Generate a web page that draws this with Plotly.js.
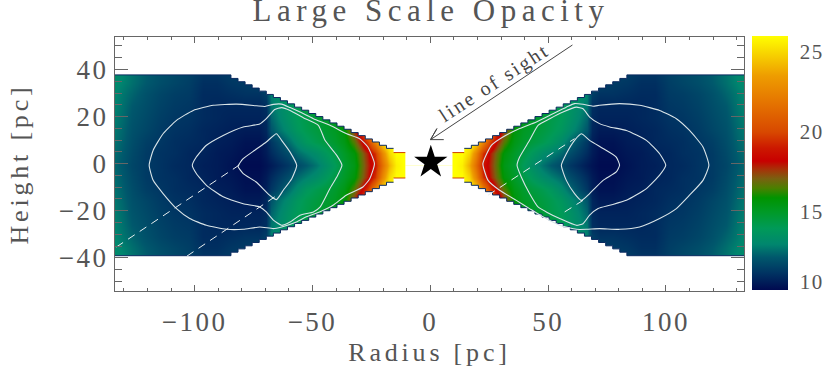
<!DOCTYPE html>
<html>
<head>
<meta charset="utf-8">
<script src="https://cdn.plot.ly/plotly-3.0.1.min.js"></script>
<style>
  body { margin: 0; background: #fff; }
  .gtitle { letter-spacing: 5.5px; }
  .xtitle, .ytitle { letter-spacing: 3.8px; }
  .xtick text, .ytick text { letter-spacing: 2.5px; }
  .colorbar text { letter-spacing: 1.5px; }
  .annotation-text { letter-spacing: 2.4px; }
</style>
</head>
<body>
<div id="chart" style="width:827px;height:379px"></div>
<script>
// opacity, one row per height, for the upper right quarter
const radii = [8, 11, 14, 17, 20, 23, 26, 29, 32, 36, 40, 44, 48, 52, 56, 60, 64, 67, 69, 72, 78, 84, 90, 96, 102, 108, 114, 120, 126, 130, 134, 138];
const heights = [0, 5, 10, 15, 20, 25, 30, 35, 40];
const row00 = [26, 26, 25.6, 24, 21.5, 18.8, 17.8, 16.6, 15.4, 14.8, 14, 13.3, 12.7, 12.2, 11.8, 11.3, 10.9, 10.6, 10.4, 10.2, 10.2, 10.4, 10.6, 10.7, 10.9, 11, 11.2, 11.4, 11.7, 12.1, 12.5, 12.8];
const row05 = [26, 26, 26, 25, 22.5, 19.5, 18, 16.8, 15.7, 15, 14.4, 13.8, 13.3, 12.9, 12.5, 11.9, 11.4, 11, 10.6, 10.3, 10.3, 10.5, 10.6, 10.8, 10.9, 11.1, 11.2, 11.4, 11.8, 12.2, 12.6, 12.9];
const row10 = [26, 26, 26, 26, 25, 22.5, 19.8, 18, 16.6, 15.4, 14.9, 14.5, 14.2, 13.8, 13.2, 12.5, 11.8, 11.3, 10.7, 10.4, 10.4, 10.6, 10.7, 10.9, 11, 11.1, 11.3, 11.5, 11.9, 12.3, 12.7, 13];
const row15 = [26, 26, 26, 26, 26, 25.5, 22.5, 19.5, 17.6, 15.7, 15.1, 14.8, 14.5, 14.2, 13.8, 13.2, 12.6, 12.1, 10.9, 10.6, 10.6, 10.7, 10.8, 10.9, 11.1, 11.2, 11.4, 11.7, 12, 12.4, 12.8, 13.1];
const row20 = [26, 26, 26, 26, 26, 26, 25.5, 22.5, 19, 16.4, 15.4, 15, 14.7, 14.3, 14, 13.5, 12.9, 12.4, 11, 10.8, 10.8, 10.8, 10.9, 11, 11.2, 11.3, 11.5, 11.8, 12.1, 12.5, 12.9, 13.2];
const row25 = [26, 26, 26, 26, 26, 26, 26, 25, 22, 18, 15.6, 15.2, 14.9, 14.6, 14.2, 13.6, 13.1, 12.7, 11.1, 10.9, 10.9, 10.9, 10.9, 11, 11.3, 11.4, 11.6, 11.9, 12.2, 12.6, 13, 13.3];
const row30 = [26, 26, 26, 26, 26, 26, 26, 26, 26, 22, 17, 15.5, 15.1, 14.8, 14.4, 13.9, 13.3, 12.9, 11.5, 11.2, 11.2, 11.1, 11, 11, 11.4, 11.5, 11.7, 12, 12.4, 12.7, 13.1, 13.4];
const row35 = [26, 26, 26, 26, 26, 26, 26, 26, 26, 26, 21, 16, 15.2, 14.9, 14.5, 14, 13.5, 13.1, 11.9, 11.6, 11.4, 11.3, 11.1, 11.1, 11.5, 11.7, 11.9, 12.2, 12.6, 12.9, 13.2, 13.5];
const row40 = [26, 26, 26, 26, 26, 26, 26, 26, 26, 26, 24, 17, 15.3, 15, 14.6, 14.1, 13.6, 13.2, 12.1, 11.8, 11.6, 11.5, 11.3, 11.3, 11.6, 11.8, 12, 12.3, 12.7, 13, 13.3, 13.6];
const opacityRows = [row00, row05, row10, row15, row20, row25, row30, row35, row40];

// the picture is mirrored about this point, not about the axis zero
const centerRadius = -0.6;
const centerHeight = -0.7;

// upper edge of the wedge, cell by cell
const edgeRadius = [10, 15, 18, 21, 24, 27, 30, 33, 36, 39, 42, 45, 48, 51, 54, 57, 60, 63, 66, 69, 72, 75, 78, 81, 84, 140];
const edgeHeight = [5.4, 7.2, 8.5, 9.9, 11.2, 12.6, 13.9, 15.3, 16.6, 18, 19.3, 20.7, 22, 23.4, 24.7, 26.1, 27.4, 28.8, 30.1, 31.5, 32.8, 34.2, 35.5, 36.9, 38.4, 38.4];

// contours
const outerLeftX = [-119.3, -117.6, -113.4, -107.7, -100.6, -92.1, -82.2, -73.7, -70.2, -66.6, -63.1, -59.5, -55.3, -49.6, -42.6, -35.5, -30, -26.5, -23.7, -25.7, -28.6, -35.7, -41.3, -47, -52.6, -56.8, -63.1, -66.6, -72.4, -79.4, -86.5, -95, -102.1, -107.7, -113.4, -117.6, -119.3];
const outerLeftY = [-0.7, 5.7, 12.7, 18.4, 22.6, 24.8, 25.3, 24.6, 24.3, 25.2, 25.3, 23.8, 21.9, 19.1, 16.3, 12.7, 10.6, 7.1, 0, -6.4, -9.9, -13.4, -17.7, -20.5, -22.6, -24.8, -26.9, -27.6, -26.9, -27.9, -27.9, -26.2, -23.3, -19.1, -12.7, -7.1, -0.7];
const middleLeftX = [-101, -99.3, -95, -87.9, -79.4, -72.4, -69.6, -66, -63.1, -59.5, -53.9, -47.5, -44.7, -39.7, -37.5, -39.7, -42.6, -46.7, -49.6, -55.3, -59.5, -63.1, -66.6, -69.6, -72.4, -79.4, -87.9, -95, -99.3, -101];
const middleLeftY = [-0.7, 2.8, 7.8, 12, 15.6, 16.8, 19.1, 23, 23.8, 22.6, 19.5, 16.3, 9.9, 3.5, -0.7, -5.7, -10.6, -18.4, -20.5, -21.9, -24.8, -26.2, -24, -20.5, -18.4, -17, -14.1, -9.2, -4.2, -0.7];
const innerLeftX = [-81.6, -79.4, -74.5, -69.6, -65.3, -63.1, -59.5, -56.7, -58.8, -62.4, -65.3, -68.2, -73.9, -79.4, -81.6];
const innerLeftY = [-1.1, 2.1, 5.7, 9.2, 12.7, 9.9, 4.9, -0.7, -6.4, -11.3, -15.3, -13.4, -7.8, -4.2, -1.1];
const outerRightX = [118.2, 115.7, 110, 104.4, 97.3, 88.8, 80.3, 71.8, 69, 64.8, 61.2, 57.7, 52, 45, 37.9, 30.8, 25.9, 22.3, 24.5, 29.4, 36.5, 42.1, 47.8, 54.9, 62, 66.2, 71.8, 80.3, 88.8, 97.3, 104.4, 110, 115.7, 118.2];
const outerRightY = [-0.7, 7.1, 14.1, 19.1, 22.6, 24.8, 25.5, 24.8, 24.4, 25.2, 25.5, 24, 21.2, 17.7, 14.9, 11.3, 7.8, 0, -7.1, -11.3, -15.6, -19.1, -22.6, -26.2, -27.9, -27.9, -27.6, -27.9, -26.9, -23.3, -19.1, -13.4, -7.1, -0.7];
const middleRightX = [99.9, 97.3, 91.7, 83.2, 76.1, 71.8, 67.6, 64.8, 62, 56.3, 50.7, 45.7, 42.1, 37.9, 36.8, 38.6, 42.1, 45.7, 49.2, 54.9, 62, 64.8, 67.6, 71.2, 76.1, 83.2, 91.7, 97.3, 99.9];
const middleRightY = [-0.7, 4.2, 9.9, 14.1, 15.6, 17, 19.8, 23.3, 24, 21.9, 19.1, 16.3, 9.9, 2.8, -0.7, -5.7, -12.7, -18.4, -20.5, -23.3, -26.2, -25.5, -21.9, -19.1, -17.7, -15.6, -10.6, -4.9, -0.7];
const innerRightX = [80.3, 78.9, 73.3, 67.6, 64.1, 61.2, 57.7, 55.6, 57.7, 61.2, 64.1, 67.6, 73.3, 78.9, 80.3];
const innerRightY = [-0.7, 2.8, 6.4, 9.9, 12.7, 9.9, 4.2, -0.7, -7.1, -12.7, -15.6, -12.7, -7.1, -3.5, -0.7];
const contourX = [outerLeftX, middleLeftX, innerLeftX, outerRightX, middleRightX, innerRightX];
const contourY = [outerLeftY, middleLeftY, innerLeftY, outerRightY, middleRightY, innerRightY];

// dashed lines
const dashX = [[-133.2, -80.2], [-103.3, -66], [24.5, 61.2], [57, 64.8]];
const dashY = [[-35.4, 0], [-39.3, -14.1], [-13.4, 10.6], [-20.5, -15.6]];

// line of sight arrow
const arrowX = [60.3, 0.1, 2.8, 0.1, 5.7];
const arrowY = [50.4, 10.2, 14.9, 10.2, 10.2];

// colour scale
const colorValues = [10.15, 11.2, 12.2, 13, 14, 15, 15.9, 16.5, 17.1, 17.7, 18.2, 19, 20, 22, 23.5, 24.7, 26];
const colorNames = ['#000a50', '#003362', '#00586c', '#00866e', '#009a58', '#009a28', '#009400', '#4a8000', '#7a6010', '#a83008', '#c80000', '#cc1800', '#d84800', '#e67800', '#ee9c00', '#f6cc00', '#ffff00'];
const colorTickText = ['10', '15', '20', '25'];
const colorTickVals = [10.65, 15, 20, 25];

const zMin = colorValues[0];
const zMax = colorValues[colorValues.length - 1];
const colorscale = colorValues.map((v, i) => [(v - zMin) / (zMax - zMin), colorNames[i]]);

// mirror the quarter into the full image
const fullX = radii.slice().reverse().map(r => centerRadius - r).concat(radii.map(r => centerRadius + r));
const fullY = heights.slice(1).reverse().map(h => centerHeight - h).concat(heights.map(h => centerHeight + h));
const mirrorRow = row => row.slice().reverse().concat(row);
const fullZ = opacityRows.slice(1).reverse().map(mirrorRow).concat(opacityRows.map(mirrorRow));

// wedge edge as steps, going left to right; sign picks the upper or lower edge
function wedgeEdge(sign) {
  const xs = [];
  const ys = [];
  for (let i = edgeRadius.length - 2; i >= 0; i--) {
    xs.push(centerRadius - edgeRadius[i + 1], centerRadius - edgeRadius[i]);
    ys.push(centerHeight + sign * edgeHeight[i], centerHeight + sign * edgeHeight[i]);
  }
  xs.push(centerRadius - edgeRadius[0], centerRadius + edgeRadius[0]);
  ys.push(centerHeight, centerHeight);
  for (let i = 0; i < edgeRadius.length - 1; i++) {
    xs.push(centerRadius + edgeRadius[i], centerRadius + edgeRadius[i + 1]);
    ys.push(centerHeight + sign * edgeHeight[i], centerHeight + sign * edgeHeight[i]);
  }
  return { xs, ys };
}

function maskTrace(sign) {
  const edge = wedgeEdge(sign);
  return {
    x: edge.xs.concat([140, -140]),
    y: edge.ys.concat([sign * 70, sign * 70]),
    type: 'scatter',
    mode: 'lines',
    fill: 'toself',
    fillcolor: '#ffffff',
    line: { width: 0 },
    hoverinfo: 'skip'
  };
}

// thin rim along the steps, from cell first to cell last, on one side
function rimTrace(side, first, last, color) {
  const xs = [];
  const ys = [];
  [1, -1].forEach(sign => {
    for (let i = first; i <= last; i++) {
      xs.push(centerRadius + side * edgeRadius[i], centerRadius + side * edgeRadius[i + 1]);
      ys.push(centerHeight + sign * edgeHeight[i], centerHeight + sign * edgeHeight[i]);
    }
    xs.push(null);
    ys.push(null);
  });
  return {
    x: xs,
    y: ys,
    type: 'scatter',
    mode: 'lines',
    line: { color: color, width: 1 }
  };
}

const data = [{
  type: 'heatmap',
  x: fullX,
  y: fullY,
  z: fullZ,
  zmin: zMin,
  zmax: zMax,
  zsmooth: 'best',
  colorscale: colorscale,
  colorbar: {
    thickness: 36,
    thicknessmode: 'pixels',
    len: 254,
    lenmode: 'pixels',
    x: 752 / 827,
    xref: 'container',
    xanchor: 'left',
    xpad: 0,
    y: 1 - 53 / 379,
    yref: 'container',
    yanchor: 'top',
    ypad: 0,
    outlinewidth: 0,
    tickmode: 'array',
    tickvals: colorTickVals,
    ticktext: colorTickText,
    ticks: 'outside',
    ticklen: 8,
    tickcolor: 'rgba(0,0,0,0)',
    tickfont: { family: 'Liberation Serif', size: 21, color: '#555' }
  }
}, maskTrace(1), maskTrace(-1),
  rimTrace(-1, 1, 24, '#0a2a60'), rimTrace(1, 1, 24, '#0a2a60'),
  rimTrace(-1, 0, 0, '#d04000'), rimTrace(1, 0, 0, '#d04000')];

contourX.forEach((xs, i) => {
  data.push({
    x: xs,
    y: contourY[i],
    type: 'scatter',
    mode: 'lines',
    line: { color: '#d8e4e8', width: 1.1, shape: 'spline', smoothing: 0.5 }
  });
});

dashX.forEach((xs, i) => {
  data.push({
    x: xs,
    y: dashY[i],
    type: 'scatter',
    mode: 'lines',
    line: { color: '#e8eef0', width: 1, dash: '8px,6px' }
  });
});

data.push({
  x: arrowX,
  y: arrowY,
  type: 'scatter',
  mode: 'lines',
  line: { color: '#444', width: 1 }
});

data.push({
  x: [0.2],
  y: [0.6],
  type: 'scatter',
  mode: 'markers',
  marker: { symbol: 'star', size: 25, color: '#000' }
});

const axisColor = '#666';
const tickFont = { family: 'Liberation Serif', size: 27, color: '#555' };

const layout = {
  width: 827,
  height: 379,
  margin: { l: 115, r: 83, t: 37, b: 88 },
  showlegend: false,
  paper_bgcolor: '#fff',
  plot_bgcolor: '#fff',
  title: {
    text: 'Large Scale Opacity',
    font: { family: 'Liberation Serif', size: 31, color: '#555' },
    x: 431 / 827,
    xanchor: 'center',
    y: 1 - 21 / 379,
    yref: 'container',
    yanchor: 'bottom'
  },
  xaxis: {
    range: [-133.8, 133.1],
    tickvals: [-100, -50, 0, 50, 100],
    ticks: 'inside',
    ticklen: 6,
    tickcolor: axisColor,
    mirror: 'ticks',
    showline: true,
    linecolor: axisColor,
    linewidth: 1,
    showgrid: false,
    zeroline: false,
    tickfont: tickFont,
    ticklabelstandoff: 7,
    minor: { dtick: 10, ticks: 'inside', ticklen: 3, tickcolor: axisColor, showgrid: false },
    title: { text: 'Radius [pc]', font: { family: 'Liberation Serif', size: 26, color: '#555' }, standoff: 6 }
  },
  yaxis: {
    range: [-54.1, 53.8],
    tickvals: [-40, -20, 0, 20, 40],
    ticks: 'inside',
    ticklen: 13,
    tickcolor: axisColor,
    mirror: 'ticks',
    showline: true,
    linecolor: axisColor,
    linewidth: 1,
    showgrid: false,
    zeroline: false,
    tickfont: tickFont,
    minor: { dtick: 5, ticks: 'inside', ticklen: 7, tickcolor: axisColor, showgrid: false },
    title: { text: 'Height [pc]', font: { family: 'Liberation Serif', size: 26, color: '#555' }, standoff: 22 }
  },
  annotations: [{
    x: 27.3,
    y: 34.3,
    xref: 'x',
    yref: 'y',
    text: 'line of sight',
    showarrow: false,
    textangle: -33,
    font: { family: 'Liberation Serif', size: 20, color: '#444' }
  }]
};

Plotly.newPlot('chart', data, layout, { displayModeBar: false, staticPlot: true });
</script>
</body>
</html>
